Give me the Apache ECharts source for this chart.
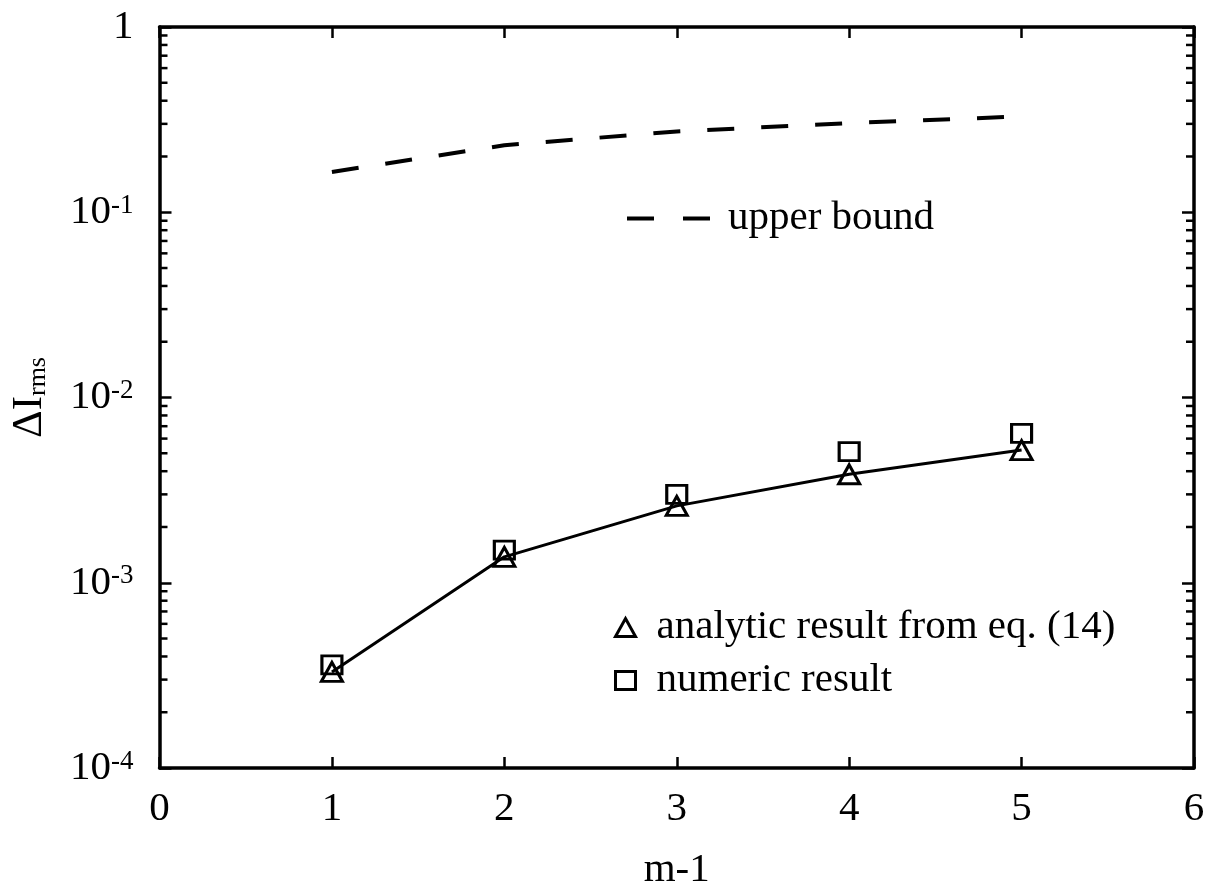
<!DOCTYPE html>
<html>
<head>
<meta charset="utf-8">
<script src="https://cdn.jsdelivr.net/npm/echarts@6/dist/echarts.min.js"></script>
<style>
  html, body { margin: 0; padding: 0; background: #fff; }
  #chart { width: 1208px; height: 896px; }
</style>
</head>
<body>
<div id="chart"></div>
<script>
// ---- data ----
const xTicks = [0, 1, 2, 3, 4, 5, 6];
const mValues = [1, 2, 3, 4, 5];
const analytic = [3.3e-4, 1.38e-3, 2.6e-3, 3.85e-3, 5.2e-3];
const numeric = [3.6e-4, 1.5e-3, 3.0e-3, 5.1e-3, 6.4e-3];
const upperBound = [0.165, 0.23, 0.273, 0.303, 0.329];
const yDecades = [1e-4, 1e-3, 1e-2, 1e-1, 1];
const minorMultipliers = [2, 3, 4, 5, 6, 7, 8, 9];
const seriesNames = ['upper bound', 'analytic result from eq. (14)', 'numeric result'];

const FONT = 'Liberation Serif';
const minorVals = [];
yDecades.slice(0, -1).forEach(d => minorMultipliers.forEach(k => minorVals.push(k * d)));

const chart = echarts.init(document.getElementById('chart'), null, { renderer: 'canvas' });

function yLabel(v) {
  const e = Math.round(Math.log10(v));
  if (e === 0) return '{b|1}';
  return '{b|10}{s|' + e + '}';
}

const commonX = {
  type: 'value', min: xTicks[0], max: xTicks[xTicks.length - 1], interval: 1,
  splitLine: { show: false },
  axisLine: { show: true, onZero: false, lineStyle: { color: '#000', width: 3.5 } },
  axisTick: { show: true, inside: true, length: 11, lineStyle: { color: '#000', width: 2.5 } }
};
const commonY = {
  type: 'log', logBase: 10, min: yDecades[0], max: yDecades[yDecades.length - 1],
  splitNumber: 4,
  splitLine: { show: false },
  axisLine: { show: true, onZero: false, lineStyle: { color: '#000', width: 3.5 } },
  axisTick: { show: true, inside: true, length: 12, lineStyle: { color: '#000', width: 2.5 } }
};

const hollow = { color: 'rgba(0,0,0,0)', borderColor: '#000', borderWidth: 3, opacity: 1 };

const option = {
  backgroundColor: '#fff',
  animation: false,
  grid: { left: 157, right: 14, top: 27, bottom: 124, containLabel: false },
  xAxis: [
    Object.assign({}, commonX, {
      position: 'bottom',
      name: 'm-1', nameLocation: 'middle', nameGap: 82,
      nameTextStyle: { fontFamily: FONT, fontSize: 41, color: '#000' },
      axisLabel: { show: true, margin: 21, fontFamily: FONT, fontSize: 41, color: '#000' }
    }),
    Object.assign({}, commonX, { position: 'top', axisLabel: { show: false } })
  ],
  yAxis: [
    Object.assign({}, commonY, {
      position: 'left',
      name: '{d|ΔI}{r|rms}', nameLocation: 'middle', nameGap: 108, nameRotate: 90,
      nameTextStyle: {
        color: '#000',
        rich: {
          d: { fontFamily: FONT, fontSize: 43, color: '#000', lineHeight: 44, verticalAlign: 'middle' },
          r: { fontFamily: FONT, fontSize: 26, color: '#000', lineHeight: 44, verticalAlign: 'bottom', padding: [14, 0, 0, 0] }
        }
      },
      axisLabel: {
        show: true, margin: 26, color: '#000',
        formatter: yLabel,
        rich: {
          b: { fontFamily: FONT, fontSize: 41, color: '#000', lineHeight: 40 },
          s: { fontFamily: FONT, fontSize: 27, color: '#000', lineHeight: 26, verticalAlign: 'top' }
        }
      }
    }),
    Object.assign({}, commonY, { position: 'right', axisLabel: { show: false } })
  ],
  legend: [
    {
      data: [{ name: seriesNames[0], icon: 'path://M0,0H27V4H0Z M56,0H83V4H56Z', itemStyle: { color: '#000' } }],
      left: 622, top: 193,
      itemWidth: 83, itemHeight: 14,
      textStyle: { fontFamily: FONT, fontSize: 41, color: '#000', padding: [0, 0, 0, 13] },
      selectedMode: false
    },
    {
      data: [
        { name: seriesNames[1], icon: 'triangle', itemStyle: hollow },
        { name: seriesNames[2], icon: 'rect', itemStyle: hollow }
      ],
      orient: 'vertical',
      left: 609, top: 602,
      itemWidth: 20, itemHeight: 18, itemGap: 12,
      textStyle: { fontFamily: FONT, fontSize: 41, color: '#000', lineHeight: 41, padding: [0, 0, 0, 16] },
      selectedMode: false
    }
  ],
  series: [
    {
      name: seriesNames[0], type: 'line',
      data: mValues.map((m, i) => [m, upperBound[i]]),
      symbol: 'none', showSymbol: false,
      lineStyle: { color: '#000', width: 4, type: [27, 27], cap: 'butt' },
      itemStyle: { color: '#000' },
      z: 3
    },
    {
      name: seriesNames[1], type: 'line',
      data: mValues.map((m, i) => [m, analytic[i]]),
      symbol: 'triangle', symbolSize: [21, 19],
      lineStyle: { color: '#000', width: 3 },
      itemStyle: hollow,
      z: 4
    },
    {
      name: seriesNames[2], type: 'scatter',
      data: mValues.map((m, i) => [m, numeric[i]]),
      symbol: 'rect', symbolSize: [20, 18],
      itemStyle: hollow,
      z: 5
    },
    {
      name: 'minor ticks', type: 'custom',
      data: minorVals.map(v => [xTicks[0], v]),
      silent: true, clip: false, z: 6,
      renderItem: function (params, api) {
        const v = api.value(1);
        const pL = api.coord([xTicks[0], v]);
        const pR = api.coord([xTicks[xTicks.length - 1], v]);
        const st = { stroke: '#000', lineWidth: 2.5 };
        return {
          type: 'group',
          children: [
            { type: 'line', shape: { x1: pL[0], y1: pL[1], x2: pL[0] + 8, y2: pL[1] }, style: st },
            { type: 'line', shape: { x1: pR[0] - 8, y1: pR[1], x2: pR[0], y2: pR[1] }, style: st }
          ]
        };
      }
    }
  ]
};
chart.setOption(option);
</script>
</body>
</html>
